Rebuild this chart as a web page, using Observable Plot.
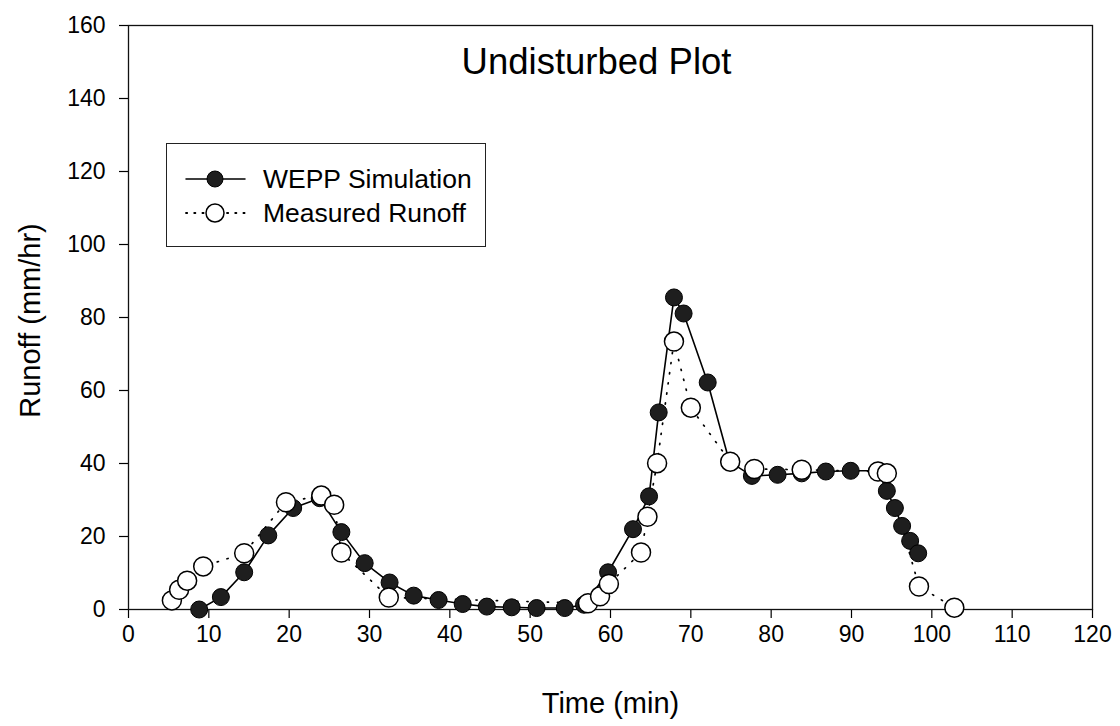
<!DOCTYPE html>
<html>
<head>
<meta charset="utf-8">
<script src="https://cdn.jsdelivr.net/npm/d3@7"></script>
<script src="https://cdn.jsdelivr.net/npm/@observablehq/plot@0.6"></script>
<style>
  html, body { margin: 0; padding: 0; background: white; }
  #wrap { position: relative; width: 1120px; height: 726px; font-family: "Liberation Sans", Arial, sans-serif; }
  #legend { position: absolute; left: 166px; top: 143px; width: 318px; height: 102px; border: 1.3px solid #222; background: white; }
</style>
</head>
<body>
<div id="wrap"><div id="legend"></div></div>
<script>
// WEPP simulation (filled circles, solid line)
const weppTime = [8.8, 11.5, 14.4, 17.4, 20.5, 23.8, 26.5, 29.4, 32.5, 35.5, 38.6, 41.6, 44.6, 47.7, 50.8, 54.3, 56.7, 59.7, 62.8, 64.8, 66.0, 67.9, 69.1, 72.1, 74.8, 77.6, 80.8, 83.8, 86.8, 89.9, 93.3, 94.4, 95.4, 96.3, 97.3, 98.3];
const weppRunoff = [0, 3.4, 10.2, 20.3, 27.8, 30.5, 21.2, 12.7, 7.4, 3.8, 2.6, 1.5, 0.8, 0.6, 0.4, 0.4, 1.3, 10.2, 22, 31, 54, 85.5, 81.1, 62.2, 40.5, 36.6, 36.9, 37.3, 37.8, 38, 38, 32.5, 27.8, 22.9, 18.8, 15.4];
// Measured runoff (open circles, dotted line)
const measTime = [5.4, 6.3, 7.3, 9.3, 14.4, 19.6, 24.0, 25.6, 26.5, 32.4, 57.2, 58.7, 59.8, 63.8, 64.6, 65.8, 67.9, 70.0, 74.9, 77.9, 83.8, 93.3, 94.4, 98.4, 102.8];
const measRunoff = [2.5, 5.4, 7.9, 11.8, 15.4, 29.4, 31.2, 28.7, 15.6, 3.3, 1.7, 3.6, 7.0, 15.6, 25.4, 40.1, 73.4, 55.3, 40.5, 38.5, 38.3, 37.8, 37.3, 6.3, 0.5];
const xTicks = [0, 10, 20, 30, 40, 50, 60, 70, 80, 90, 100, 110, 120];
const yTicks = [0, 20, 40, 60, 80, 100, 120, 140, 160];
const titleText = "Undisturbed Plot";
const xLabel = "Time (min)";
const yLabel = "Runoff (mm/hr)";
const seriesNames = ["WEPP Simulation", "Measured Runoff"];

const wepp = weppTime.map((t, i) => ({t, v: weppRunoff[i]}));
const meas = measTime.map((t, i) => ({t, v: measRunoff[i]}));

const chart = Plot.plot({
  width: 1120, height: 726,
  marginLeft: 128, marginRight: 28, marginTop: 25, marginBottom: 117,
  x: {domain: [0, 120]},
  y: {domain: [0, 160]},
  style: {fontFamily: "'Liberation Sans', Arial, sans-serif", fontSize: "23px", color: "black", background: "white"},
  marks: [
    Plot.axisX({ticks: xTicks, tickSize: 9, tickPadding: 7, label: null, fontSize: 23, strokeWidth: 1.2}),
    Plot.axisY({ticks: yTicks, tickSize: 9, tickPadding: 14, label: null, fontSize: 23, strokeWidth: 1.2}),
    Plot.frame({stroke: "#111", strokeWidth: 1.3}),
    Plot.line(wepp, {x: "t", y: "v", stroke: "black", strokeWidth: 1.6}),
    Plot.line(meas, {x: "t", y: "v", stroke: "black", strokeWidth: 1.7, strokeDasharray: "1.2,9", strokeLinecap: "round"}),
    Plot.dot(wepp, {x: "t", y: "v", r: 8.5, fill: "#1e1e1e", stroke: "black", strokeWidth: 1}),
    Plot.dot(meas, {x: "t", y: "v", r: 9.5, fill: "white", stroke: "black", strokeWidth: 1.5}),
    Plot.text([titleText], {text: d => d, frameAnchor: "top", textAnchor: "middle", dy: 37, dx: -14, fontSize: 36.5, lineAnchor: "middle"}),
    Plot.text([xLabel], {text: d => d, frameAnchor: "bottom", textAnchor: "middle", dy: 94, fontSize: 29, lineAnchor: "middle"}),
    Plot.text([yLabel], {text: d => d, frameAnchor: "left", textAnchor: "middle", dx: -98, dy: 3, rotate: -90, fontSize: 29, lineAnchor: "middle"})
  ]
});
document.getElementById("wrap").prepend(chart);

// legend
const lg = d3.select("#legend").append("svg").attr("width", 318).attr("height", 102)
  .style("font-family", "'Liberation Sans', Arial, sans-serif");
const rows = [
  {name: seriesNames[0], dash: null, fill: "#1e1e1e", r: 8, sw: 1},
  {name: seriesNames[1], dash: "1.2,7", fill: "white", r: 9, sw: 1.5}
];
rows.forEach((row, i) => {
  const cy = 35 + i * 34;
  lg.append("line").attr("x1", 19).attr("x2", 78).attr("y1", cy).attr("y2", cy)
    .attr("stroke", "black").attr("stroke-width", row.dash ? 1.8 : 1.5)
    .attr("stroke-dasharray", row.dash).attr("stroke-linecap", "round");
  lg.append("circle").attr("cx", 48).attr("cy", cy).attr("r", row.r)
    .attr("fill", row.fill).attr("stroke", "black").attr("stroke-width", row.sw);
  lg.append("text").attr("x", 96).attr("y", cy).attr("dy", "0.35em")
    .attr("font-size", 26.5).text(row.name);
});
</script>
</body>
</html>
